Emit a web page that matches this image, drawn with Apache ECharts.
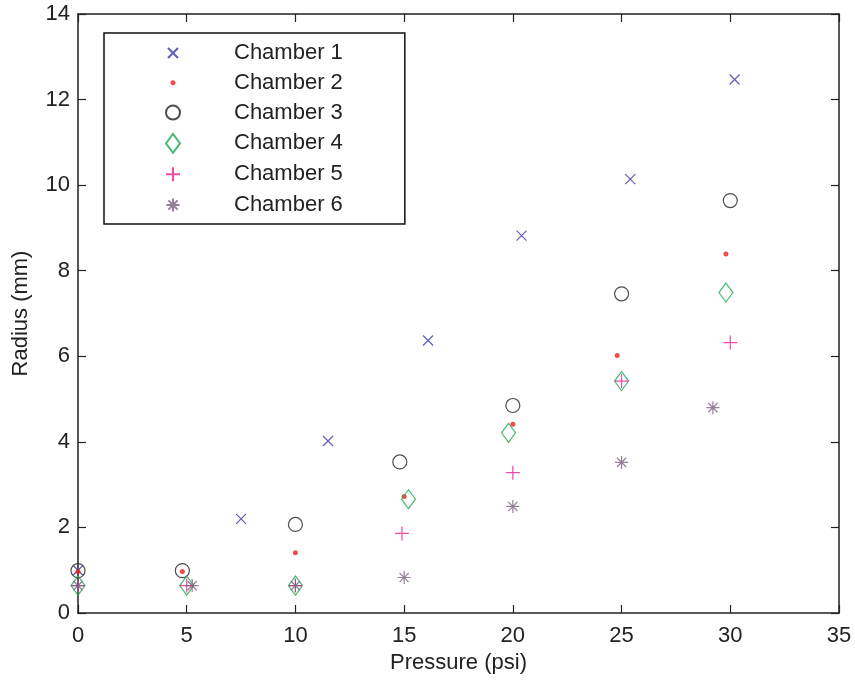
<!DOCTYPE html>
<html>
<head>
<meta charset="utf-8">
<script src="https://cdn.jsdelivr.net/npm/echarts@6/dist/echarts.min.js"></script>
<style>
  html, body { margin: 0; padding: 0; background: #fff; }
  #main { width: 855px; height: 680px; }
</style>
</head>
<body>
<div id="main"></div>
<script>
// pressure (psi) and radius (mm) for each chamber
const names = ["Chamber 1", "Chamber 2", "Chamber 3", "Chamber 4", "Chamber 5", "Chamber 6"];
const pressure1 = [0, 7.5, 11.5, 16.1, 20.4, 25.4, 30.2];
const radius1 = [1.0, 2.2, 4.02, 6.37, 8.82, 10.14, 12.47];
const pressure2 = [0, 4.8, 10, 15, 20, 24.8, 29.8];
const radius2 = [0.97, 0.97, 1.41, 2.72, 4.41, 6.02, 8.39];
const pressure3 = [0, 4.8, 10, 14.8, 20, 25, 30];
const radius3 = [0.99, 0.99, 2.07, 3.53, 4.85, 7.46, 9.64];
const pressure4 = [0, 5, 10, 15.2, 19.8, 25, 29.8];
const radius4 = [0.64, 0.64, 0.64, 2.66, 4.21, 5.42, 7.49];
const pressure5 = [0, 5, 10, 14.9, 20, 25, 30];
const radius5 = [0.64, 0.64, 0.64, 1.86, 3.28, 5.42, 6.32];
const pressure6 = [0, 5.25, 10, 15, 20, 25, 29.2];
const radius6 = [0.64, 0.64, 0.64, 0.83, 2.49, 3.52, 4.8];

const pressures = [pressure1, pressure2, pressure3, pressure4, pressure5, pressure6];
const radii = [radius1, radius2, radius3, radius4, radius5, radius6];

const font = "Liberation Sans, Arial, sans-serif";
const axisColor = "#222";

// all markers drawn inside a 19x19 box (the M0,0M19,19 pins the box),
// so legend icons and plot marks keep their relative sizes
const box = "path://M0,0M19,19";
const markers = [
  { symbol: box + "M4.5,4.5L14.5,14.5M4.5,14.5L14.5,4.5", fill: "none", stroke: "#3535a5" },
  { symbol: box + "M7,9.5A2.5,2.5,0,1,0,12,9.5A2.5,2.5,0,1,0,7,9.5Z", fill: "#ee2020", stroke: "#ee2020" },
  { symbol: box + "M2.5,9.5A7,7,0,1,0,16.5,9.5A7,7,0,1,0,2.5,9.5Z", fill: "none", stroke: "#222" },
  { symbol: box + "M9.5,0L16.5,9.5L9.5,19L2.5,9.5Z", fill: "none", stroke: "#1faa55" },
  { symbol: box + "M9.5,2.5L9.5,16.5M2.5,9.5L16.5,9.5", fill: "none", stroke: "#e8208f" },
  { symbol: box + "M9.5,3L9.5,16M3,9.5L16,9.5M4.9,4.9L14.1,14.1M4.9,14.1L14.1,4.9", fill: "none", stroke: "#7a5f80" },
];

const series = names.map((name, i) => ({
  name: name,
  type: "scatter",
  clip: false,
  symbol: markers[i].symbol,
  symbolSize: 19,
  symbolKeepAspect: true,
  itemStyle: {
    color: markers[i].fill,
    borderColor: markers[i].stroke,
    borderWidth: i === 1 ? 0 : 1.2,
  },
  emphasis: { disabled: true },
  data: pressures[i].map((p, j) => [p, radii[i][j]]),
}));

function valueAxis(pos, show) {
  return {
    position: pos,
    axisLine: { show: true, onZero: false, lineStyle: { color: axisColor, width: 1.5 } },
    axisTick: { show: true, inside: true, length: 8, lineStyle: { color: axisColor, width: 1.2 } },
    splitLine: { show: false },
    axisLabel: { show: show, color: "#222", fontSize: 22, fontFamily: font },
  };
}

const chart = echarts.init(document.getElementById("main"));
chart.setOption({
  animation: false,
  backgroundColor: "#fff",
  grid: { left: 78, top: 14, right: 16, bottom: 67 },
  legend: {
    data: names,
    orient: "vertical",
    left: 104,
    top: 33,
    itemWidth: 112,
    itemHeight: 19,
    itemGap: 6.8,
    padding: [8, 62, 7, 57],
    borderColor: "#111",
    borderWidth: 1.5,
    backgroundColor: "#fff",
    textStyle: { fontSize: 22, fontFamily: font, color: "#222", lineHeight: 22 },
  },
  xAxis: [
    Object.assign(valueAxis("bottom", true), {
      type: "value", min: 0, max: 35, interval: 5,
      name: "Pressure (psi)", nameLocation: "middle", nameGap: 38,
      nameTextStyle: { fontSize: 22, fontFamily: font, color: "#222" },
      axisLabel: { show: true, color: "#222", fontSize: 22, fontFamily: font, margin: 12 },
    }),
    Object.assign(valueAxis("top", false), { type: "value", min: 0, max: 35, interval: 5 }),
  ],
  yAxis: [
    Object.assign(valueAxis("left", true), {
      type: "value", min: 0, max: 14, interval: 2,
      name: "Radius (mm)", nameLocation: "middle", nameGap: 46,
      nameTextStyle: { fontSize: 22, fontFamily: font, color: "#222" },
      axisLabel: { show: true, color: "#222", fontSize: 22, fontFamily: font, margin: 8 },
    }),
    Object.assign(valueAxis("right", false), { type: "value", min: 0, max: 14, interval: 2 }),
  ],
  series: series,
});
</script>
</body>
</html>
